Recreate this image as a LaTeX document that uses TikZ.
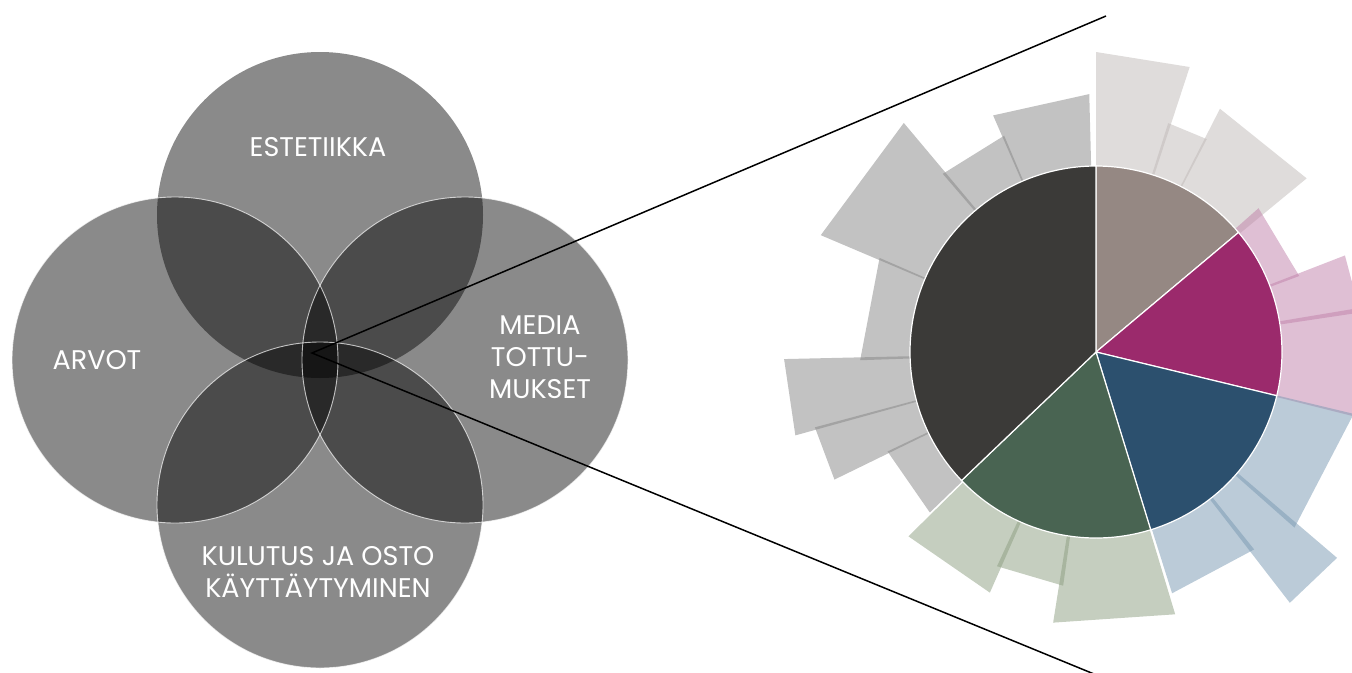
\documentclass[tikz,border=0pt]{standalone}
\usepackage{fontspec}
\setmainfont{Poppins}
\usetikzlibrary{calc, positioning}

\definecolor{piedark}{HTML}{3B3A38}
\definecolor{piebrown}{HTML}{958883}
\definecolor{piemagenta}{HTML}{9B2A6C}
\definecolor{pieblue}{HTML}{2C506E}
\definecolor{piegreen}{HTML}{496452}
% bar colours, used at half opacity
\definecolor{bardark}{RGB}{133,133,133}
\definecolor{barbrown}{RGB}{191,185,183}
\definecolor{barmagenta}{RGB}{191,127,169}
\definecolor{barblue}{RGB}{119,151,177}
\definecolor{bargreen}{RGB}{139,157,127}

% one radial bar: colour, start angle, end angle, length
\newcommand{\radbar}[4]{\fill[#1,fill opacity=0.5] (0,0) -- (#2:#4) -- (#3:#4) -- cycle;}
% one pie slice: colour, start angle, end angle
\newcommand{\pieslice}[3]{\filldraw[fill=#1,draw=white,line width=1.2pt] (0,0) -- (#2:186) arc[start angle=#2, end angle=#3, radius=186pt] -- cycle;}

\tikzset{
  venn/.style={fill=black, fill opacity=0.46},
  vennline/.style={draw=white, line width=0.9pt, draw opacity=0.7},
  lbl/.style={text=white, font=\fontsize{27}{32}\selectfont, align=center},
  zoomline/.style={draw=black, line width=1.5pt},
}

\begin{document}
\begin{tikzpicture}[x=1pt,y=1pt]
  \useasboundingbox (0,0) rectangle (1352,-672);
  \clip (0,0) rectangle (1352,-672);
  %\draw [step=100] (0,-672) grid (1352,0);

  % four circles
  \fill[venn] (320,-215) circle[radius=163pt];
  \fill[venn] (175,-360) circle[radius=163pt];
  \fill[venn] (465,-360) circle[radius=163pt];
  \fill[venn] (320,-505) circle[radius=163pt];
  \draw[vennline] (175,-360) circle[radius=163pt];
  \draw[vennline] (465,-360) circle[radius=163pt];
  \draw[vennline] (320,-505) circle[radius=163pt];

  \node[lbl] (est) at (318,-147) {ESTETIIKKA};
  \node[lbl] (arv) at (97,-360) {ARVOT};
  \node[lbl] (med) at (540,-357) {MEDIA\\TOTTU-\\MUKSET};
  \node[lbl] (kul) at (318,-572) {KULUTUS JA OSTO\\KÄYTTÄYTYMINEN};

  % zoom lines
  \coordinate (apex) at (312,-353);
  \coordinate (upend) at (1106,-16);
  \coordinate (lowend) at (1094,-674);
  \draw[zoomline] (upend) -- (apex) -- (lowend);

  % rose chart
  \begin{scope}[shift={(1096,-352)}]
    \radbar{bardark}{113.5}{91.5}{258}
    \radbar{bardark}{130.7}{113}{235}
    \radbar{bardark}{157}{130}{299}
    \radbar{bardark}{182}{156.5}{236}
    \radbar{bardark}{195.5}{181.3}{312}
    \radbar{bardark}{206}{195}{291}
    \radbar{bardark}{224}{205.5}{231}

    \radbar{barbrown}{90}{71.8}{300}
    \radbar{barbrown}{72.5}{62.5}{240}
    \radbar{barbrown}{63}{39.5}{273}

    \radbar{barmagenta}{41.5}{20.5}{217}
    \radbar{barmagenta}{21.2}{8.5}{267}
    \radbar{barmagenta}{9.5}{-14}{290}

    \radbar{barblue}{-13.5}{-41.5}{265}
    \radbar{barblue}{-40.5}{-52.3}{317}
    \radbar{barblue}{-51.3}{-72.5}{253}

    \radbar{bargreen}{-73.2}{-99}{274}
    \radbar{bargreen}{-98}{-114.8}{236}
    \radbar{bargreen}{-113.8}{-135.5}{263}

    \pieslice{piebrown}{90}{40}
    \pieslice{piemagenta}{40}{-13.6}
    \pieslice{pieblue}{-13.6}{-72.9}
    \pieslice{piegreen}{-72.9}{-136.3}
    \pieslice{piedark}{-136.3}{-270}
  \end{scope}
\end{tikzpicture}
\end{document}
